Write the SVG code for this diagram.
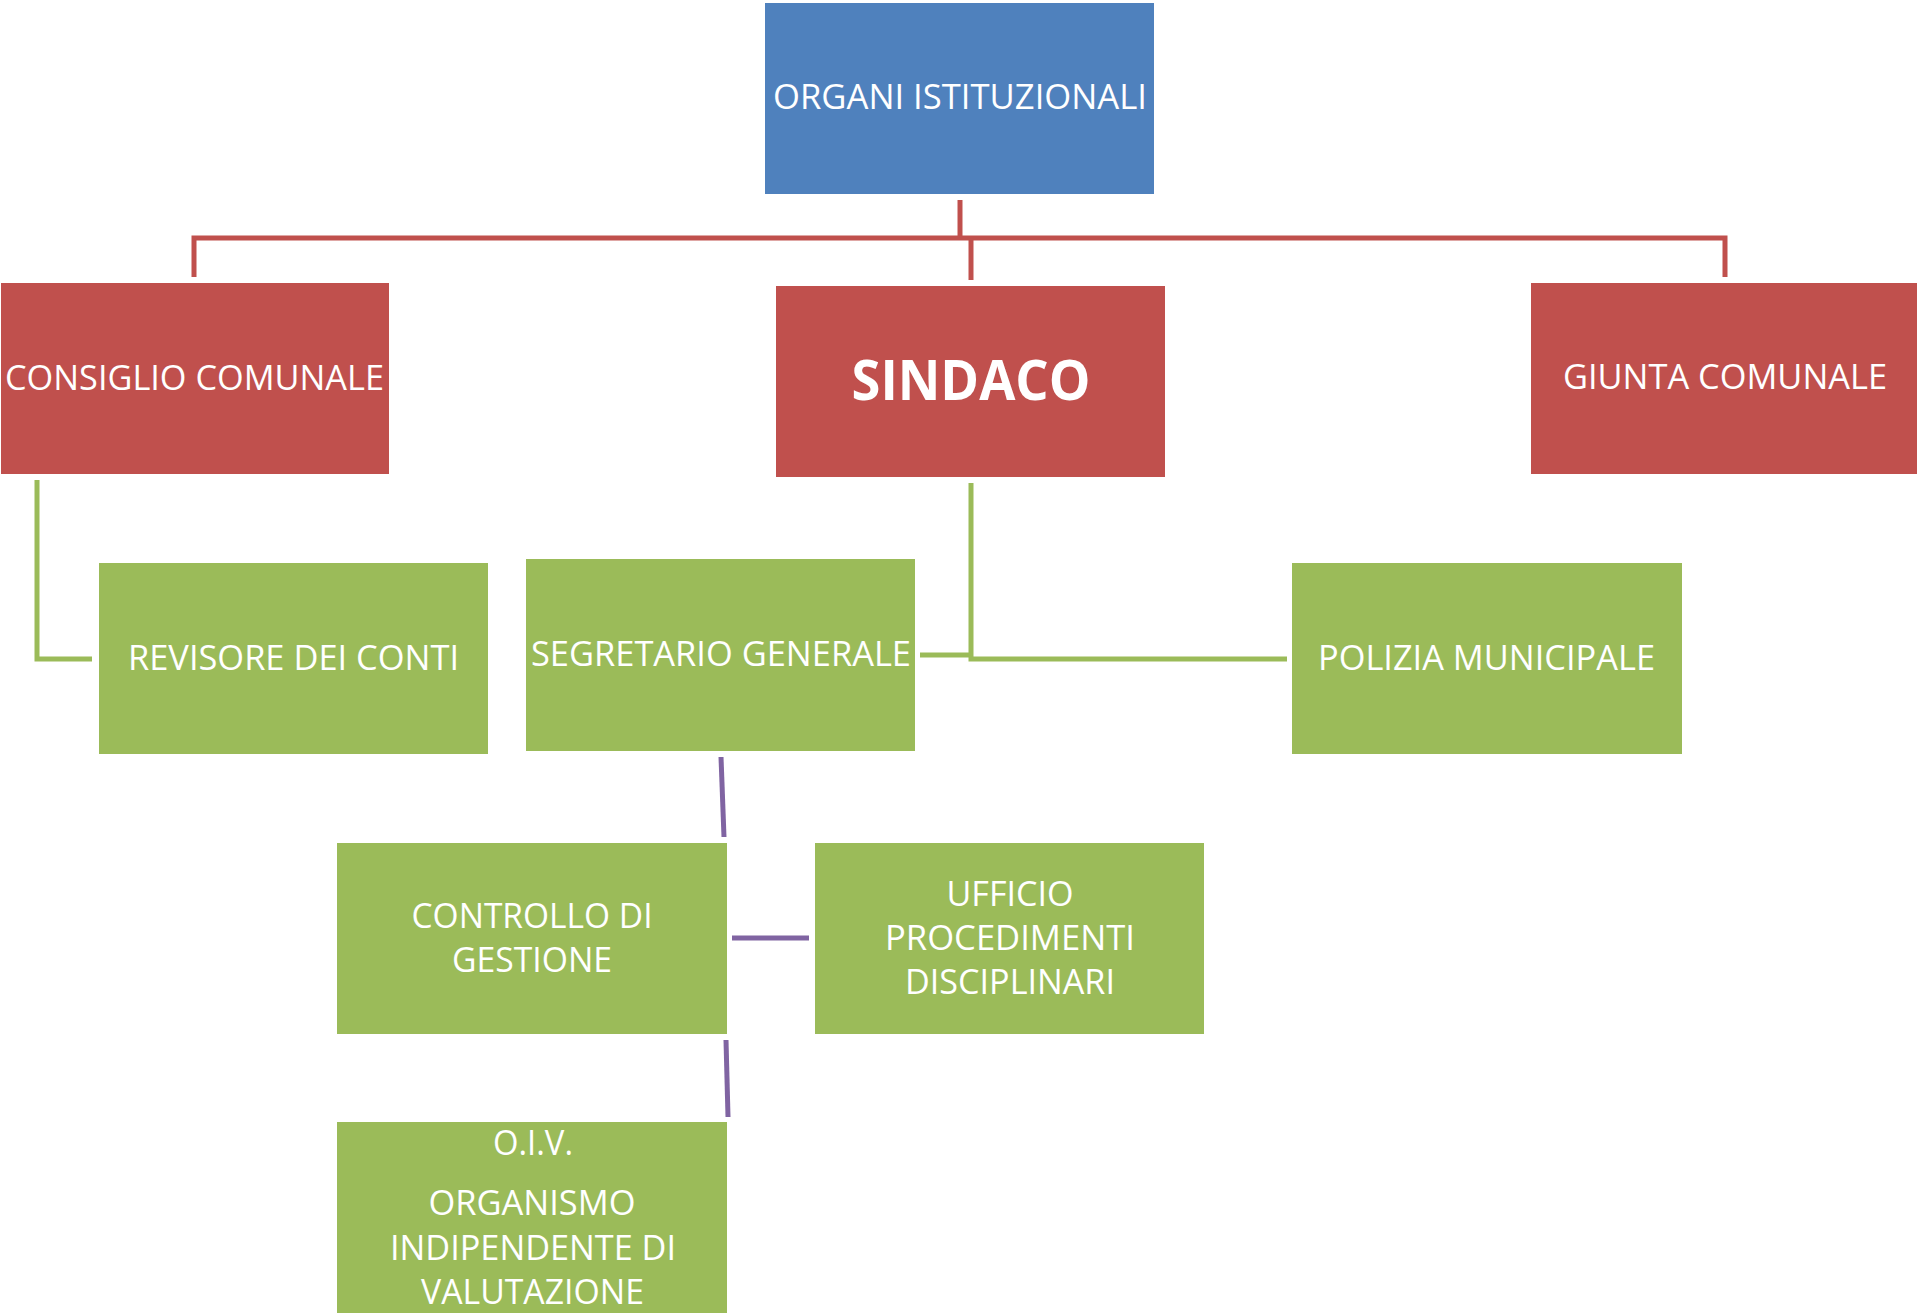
<svg xmlns="http://www.w3.org/2000/svg" width="1917" height="1313" viewBox="0 0 1917 1313">
<style>
  .blue{fill:#4F81BD}
  .red{fill:#C0504D}
  .green{fill:#9BBB59}
  text{font-family:"Open Sans","Liberation Sans",sans-serif;font-size:35px;fill:#FFFFFF;text-anchor:middle}
  .big{font-size:56px;font-weight:bold}
  .cr{fill:none;stroke:#C0504D;stroke-width:5}
  .cg{fill:none;stroke:#9BBB59;stroke-width:5}
  .cp{fill:none;stroke:#8064A2;stroke-width:5}
</style>
<rect width="1917" height="1313" fill="#FFFFFF"/>
<g id="connectors">
  <path class="cr" d="M960,200 V240"/>
  <path class="cr" d="M194,277 V238 H1725 V277"/>
  <path class="cr" d="M971,238 V280"/>
  <path class="cg" d="M37,480 V659 H92"/>
  <path class="cg" d="M971,483 V659 H1287"/>
  <path class="cg" d="M920,655 H971"/>
  <path class="cp" d="M721,757 L724,837"/>
  <path class="cp" d="M732,938 H809"/>
  <path class="cp" d="M726,1040 L728,1117"/>
</g>
<g id="organi">
  <rect class="blue" x="765" y="3" width="389" height="191"/>
  <text x="960" y="109" textLength="374" lengthAdjust="spacingAndGlyphs">ORGANI ISTITUZIONALI</text>
</g>
<g id="consiglio">
  <rect class="red" x="1" y="283" width="388" height="191"/>
  <text x="194.5" y="390" textLength="379" lengthAdjust="spacingAndGlyphs">CONSIGLIO COMUNALE</text>
</g>
<g id="sindaco">
  <rect class="red" x="776" y="286" width="389" height="191"/>
  <text class="big" x="971" y="400" textLength="239" lengthAdjust="spacingAndGlyphs">SINDACO</text>
</g>
<g id="giunta">
  <rect class="red" x="1531" y="283" width="386" height="191"/>
  <text x="1725" y="389" textLength="324" lengthAdjust="spacingAndGlyphs">GIUNTA COMUNALE</text>
</g>
<g id="revisore">
  <rect class="green" x="99" y="563" width="389" height="191"/>
  <text x="293.5" y="670" textLength="331" lengthAdjust="spacingAndGlyphs">REVISORE DEI CONTI</text>
</g>
<g id="segretario">
  <rect class="green" x="526" y="559" width="389" height="192"/>
  <text x="721" y="666" textLength="380" lengthAdjust="spacingAndGlyphs">SEGRETARIO GENERALE</text>
</g>
<g id="polizia">
  <rect class="green" x="1292" y="563" width="390" height="191"/>
  <text x="1486.5" y="670" textLength="337" lengthAdjust="spacingAndGlyphs">POLIZIA MUNICIPALE</text>
</g>
<g id="controllo">
  <rect class="green" x="337" y="843" width="390" height="191"/>
  <text x="532" y="928" textLength="241" lengthAdjust="spacingAndGlyphs">CONTROLLO DI</text>
  <text x="532" y="972" textLength="160" lengthAdjust="spacingAndGlyphs">GESTIONE</text>
</g>
<g id="ufficio">
  <rect class="green" x="815" y="843" width="389" height="191"/>
  <text x="1010" y="906" textLength="127" lengthAdjust="spacingAndGlyphs">UFFICIO</text>
  <text x="1010" y="950" textLength="250" lengthAdjust="spacingAndGlyphs">PROCEDIMENTI</text>
  <text x="1010" y="994" textLength="210" lengthAdjust="spacingAndGlyphs">DISCIPLINARI</text>
</g>
<g id="oiv">
  <rect class="green" x="337" y="1122" width="390" height="191"/>
  <text x="533" y="1155" textLength="80" lengthAdjust="spacingAndGlyphs">O.I.V.</text>
  <text x="532" y="1215" textLength="207" lengthAdjust="spacingAndGlyphs">ORGANISMO</text>
  <text x="533" y="1260" textLength="286" lengthAdjust="spacingAndGlyphs">INDIPENDENTE DI</text>
  <text x="532.5" y="1304" textLength="223" lengthAdjust="spacingAndGlyphs">VALUTAZIONE</text>
</g>
</svg>
